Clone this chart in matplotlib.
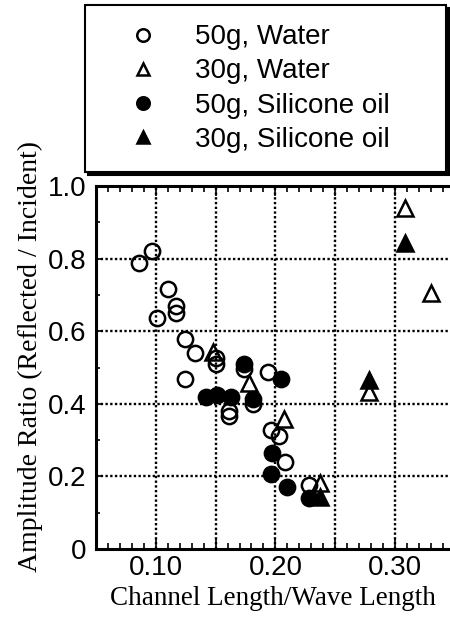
import matplotlib
matplotlib.use("Agg")
import matplotlib.pyplot as plt
from matplotlib.ticker import MultipleLocator
from matplotlib.lines import Line2D

# --- data ---
water50_x = [0.086, 0.097, 0.101, 0.110, 0.117, 0.117, 0.124, 0.133, 0.124, 0.150,
             0.150, 0.161, 0.161, 0.174, 0.181, 0.194, 0.196, 0.203, 0.208, 0.228]
water50_y = [0.787, 0.821, 0.636, 0.716, 0.669, 0.651, 0.578, 0.540, 0.469, 0.526,
             0.511, 0.381, 0.366, 0.495, 0.400, 0.488, 0.328, 0.311, 0.240, 0.176]

water30_x = [0.148, 0.178, 0.207, 0.2375, 0.278, 0.308, 0.330]
water30_y = [0.544, 0.456, 0.358, 0.181, 0.433, 0.939, 0.704]

oil50_x = [0.142, 0.151, 0.163, 0.174, 0.181, 0.205, 0.197, 0.196, 0.210, 0.228]
oil50_y = [0.420, 0.424, 0.420, 0.509, 0.413, 0.467, 0.264, 0.207, 0.170, 0.140]

oil30_x = [0.2375, 0.278, 0.308]
oil30_y = [0.142, 0.466, 0.842]

labels = ['50g, Water', '30g, Water', '50g, Silicone oil', '30g, Silicone oil']
xtick_vals = [0.05, 0.10, 0.15, 0.20, 0.25, 0.30]
xtick_labels = ['', '0.10', '', '0.20', '', '0.30']
ytick_vals = [0, 0.2, 0.4, 0.6, 0.8, 1.0]
ytick_labels = ['0', '0.2', '0.4', '0.6', '0.8', '1.0']

SANS = 'Liberation Sans'
SERIF = 'Liberation Serif'

fig = plt.figure(figsize=(4.5, 6.17), dpi=100)
ax = fig.add_axes([96 / 450, 1 - 549 / 617, 1 - 96 / 450, (549 - 186) / 617])

ms = 11
mew = 1.8
ax.plot(water50_x, water50_y, 'o', ms=ms, mfc='none', mec='black', mew=mew, zorder=3)
ax.plot(oil50_x, oil50_y, 'o', ms=ms, mfc='black', mec='black', mew=mew, zorder=4)
ax.plot(water30_x, water30_y, '^', ms=ms, mfc='none', mec='black', mew=mew, zorder=5)
ax.plot(oil30_x, oil30_y, '^', ms=ms, mfc='black', mec='black', mew=mew, zorder=6)

ax.set_xlim(0.05, 0.346)
ax.set_ylim(0, 1.0)

# dotted grid
for gx in [0.10, 0.15, 0.20, 0.25, 0.30]:
    ax.axvline(gx, color='black', ls=(0, (1, 1)), lw=1.7, zorder=1)
for gy in [0.2, 0.4, 0.6, 0.8]:
    ax.axhline(gy, color='black', ls=(0, (1, 1)), lw=1.7, zorder=1)

ax.set_xticks(xtick_vals)
ax.set_xticklabels(xtick_labels, fontfamily=SANS, fontsize=20)
ax.set_yticks(ytick_vals)
ax.set_yticklabels(ytick_labels, fontfamily=SANS, fontsize=20)
ax.xaxis.set_minor_locator(MultipleLocator(0.01))
ax.yaxis.set_minor_locator(MultipleLocator(0.1))
ax.tick_params(axis='x', which='both', direction='in', top=True, bottom=True, width=1.2)
ax.tick_params(axis='x', which='major', length=7, pad=4)
ax.tick_params(axis='x', which='minor', length=4)
ax.tick_params(axis='y', which='both', direction='in', left=True, right=False, width=1.2)
ax.tick_params(axis='y', which='major', length=5, pad=7)
ax.tick_params(axis='y', which='minor', length=3)

for side in ['left', 'bottom', 'top']:
    ax.spines[side].set_linewidth(2.2)
ax.spines['right'].set_visible(False)

ax.set_xlabel('Channel Length/Wave Length', fontfamily=SERIF, fontsize=19.5, labelpad=4)
ax.set_ylabel('Amplitude Ratio (Reflected / Incident)', fontfamily=SERIF, fontsize=20)
ax.yaxis.set_label_coords(-0.15, 0.53)

# legend box with solid shadow
handles = [
    Line2D([], [], ls='none', marker='o', ms=9, mfc='none', mec='black', mew=1.8),
    Line2D([], [], ls='none', marker='^', ms=9, mfc='none', mec='black', mew=1.8),
    Line2D([], [], ls='none', marker='o', ms=9, mfc='black', mec='black', mew=1.8),
    Line2D([], [], ls='none', marker='^', ms=9, mfc='black', mec='black', mew=1.8),
]
leg = fig.legend(handles, labels, loc='upper left',
                 bbox_to_anchor=(85 / 450, 1 - 5 / 617, (446 - 85) / 450, 0), mode='expand',
                 prop={'family': SANS, 'size': 20}, frameon=True, fancybox=False,
                 edgecolor='black', framealpha=1, labelspacing=0.29, handletextpad=0.48,
                 borderpad=0.7, borderaxespad=0, handlelength=2.78,
                 shadow={'color': 'black', 'alpha': 1})
leg.get_frame().set_linewidth(1.5)

fig.savefig('out.png', dpi=100)
